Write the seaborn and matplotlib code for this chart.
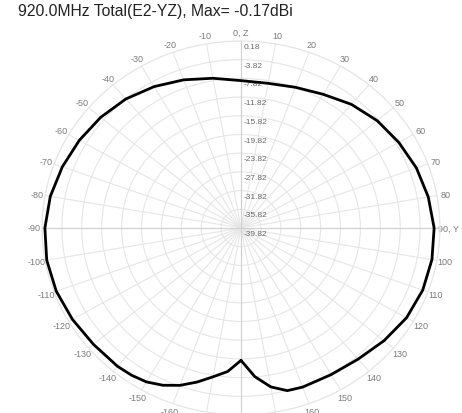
import numpy as np
import pandas as pd
import seaborn as sns
import matplotlib
matplotlib.use("Agg")
import matplotlib.pyplot as plt

# Pattern (angle in degrees, gain in dBi)
angles = [-180, -175, -170, -165, -160, -155, -150, -145, -140, -130, -120,
          -110, -100, -90, -80, -70, -60, -50, -40, -30, -20, -10, 0,
          10, 20, 30, 40, 50, 60, 70, 80, 90, 100, 110, 120, 130, 140,
          150, 160, 165, 170, 175, 180]
gain = [-11.5, -9.0, -7.5, -5.7, -4.0, -2.7, -1.8, -1.4, -1.2, -1.1, -0.7,
        -0.3, -0.17, -0.4, -0.9, -1.6, -2.3, -3.0, -3.8, -4.9, -6.1, -7.3, -8.3,
        -8.4, -7.8, -6.8, -5.3, -4.1, -3.2, -2.3, -1.6, -1.0, -0.85, -0.95, -1.4, -2.3, -3.2,
        -3.6, -3.6, -3.8, -5.3, -7.9, -11.5]

ring_values = [0.18, -3.82, -7.82, -11.82, -15.82, -19.82, -23.82,
               -27.82, -31.82, -35.82, -39.82]
theta_ticks = list(range(0, 360, 10))
theta_labels = ["0, Z" if a == 0 else "90, Y" if a == 90 else
                str(a if a <= 180 else a - 360) for a in theta_ticks]

title = "920.0MHz Total(E2-YZ), Max= -0.17dBi"

df = pd.DataFrame({"theta": np.deg2rad(angles), "gain": gain})

sns.set_theme(style="white")
plt.rcParams["font.family"] = ["Liberation Sans", "DejaVu Sans"]

fig = plt.figure(figsize=(4.62, 4.14), dpi=100)
ax = fig.add_axes([0.0909, -0.0048, 0.8615, 0.9034], projection="polar")
ax.set_aspect("auto")
ax.set_theta_zero_location("N")
ax.set_theta_direction(-1)
ax.set_ylim(ring_values[-1], ring_values[0])

# grid
ax.set_thetagrids(theta_ticks, theta_labels)
ax.set_yticks(ring_values)
ax.set_yticklabels([])
ax.grid(True, color="#e6e6e6", linewidth=0.8)
ax.spines["polar"].set_color("#e6e6e6")
ax.spines["polar"].set_linewidth(0.8)
ax.tick_params(axis="x", length=0, pad=-1, labelsize=6.5, labelcolor="#7a7a7a")

# main axes slightly darker
for a in [0, 90, 180, 270]:
    ax.plot([np.deg2rad(a)] * 2, [ring_values[-1], ring_values[0]],
            color="#d0d0d0", lw=0.8, zorder=1)

# radial labels next to the vertical axis
for r in ring_values:
    ax.annotate(f"{r:.2f}", xy=(0, r), xytext=(2, -1.5), textcoords="offset points",
                ha="left", va="top", fontsize=6, color="#6a6a6a", zorder=3)

sns.lineplot(data=df, x="theta", y="gain", ax=ax, sort=False, estimator=None,
             color="black", linewidth=2, zorder=4)
ax.set_xlabel("")
ax.set_ylabel("")

fig.text(0.039, 0.972, title, ha="left", va="center", fontsize=11.3, color="#222222")

fig.savefig("out.png", dpi=100)
